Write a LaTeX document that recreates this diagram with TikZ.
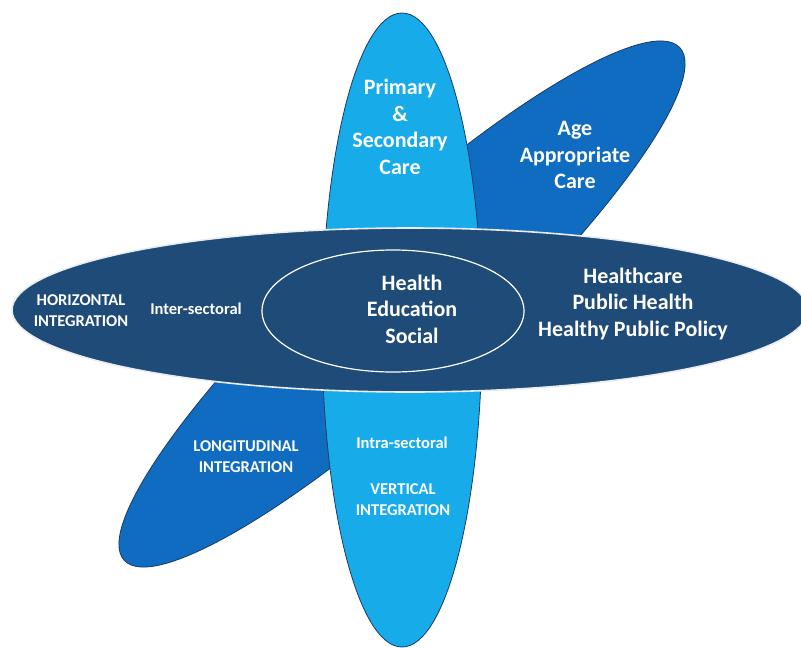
\documentclass[tikz,border=0pt]{standalone}
\usepackage{fontspec}
\setmainfont{Carlito}
\usetikzlibrary{shapes.geometric}
\definecolor{navy}{HTML}{1F4B78}
\definecolor{lightblue}{HTML}{18ABEA}
\definecolor{midblue}{HTML}{0F6CC1}
\definecolor{edgeblue}{HTML}{1B3A6B}
\tikzset{
  blob/.style={ellipse, inner sep=0pt, outer sep=0pt},
  bigtxt/.style={text=white, align=center, font=\bfseries\fontsize{22}{26.5}\selectfont},
  smalltxt/.style={text=white, align=center, font=\bfseries\fontsize{16.5}{21}\selectfont},
}
\begin{document}
\begin{tikzpicture}[x=1pt,y=-1pt]
\useasboundingbox (0,0) rectangle (801,648);
\fill[white] (0,0) rectangle (801,648);
% diagonal ellipse
\node[blob, fill=midblue, draw=edgeblue, line width=0.8pt,
      minimum width=756pt, minimum height=160pt, rotate=42.7] (diag) at (402,304) {};
% vertical ellipse
\node[blob, fill=lightblue, draw=edgeblue, line width=0.8pt,
      minimum width=160pt, minimum height=634pt] (vert) at (402,330) {};
% horizontal ellipse
\node[blob, fill=navy, draw=white!90!navy, line width=1.6pt,
      minimum width=796pt, minimum height=164pt] (horiz) at (410,310) {};
% inner ellipse
\node[blob, fill=navy, draw=white, line width=1.2pt,
      minimum width=262pt, minimum height=122pt] (inner) at (393,311) {};

\node[bigtxt] (psc) at (400,127) {Primary\\\&\\Secondary\\Care};
\node[bigtxt] (age) at (575,155) {Age\\Appropriate\\Care};
\node[bigtxt] (hes) at (412,309) {Health\\Education\\Social};
\node[bigtxt] (hph) at (633,304) {Healthcare\\Public Health\\Healthy Public Policy};
\node[smalltxt] (hor) at (81,311) {HORIZONTAL\\INTEGRATION};
\node[smalltxt] (inter) at (196,309) {Inter-sectoral};
\node[smalltxt] (lon) at (246,457) {LONGITUDINAL\\INTEGRATION};
\node[smalltxt] (intra) at (402,443) {Intra-sectoral};
\node[smalltxt] (ver) at (403,500) {VERTICAL\\INTEGRATION};
\end{tikzpicture}
\end{document}
